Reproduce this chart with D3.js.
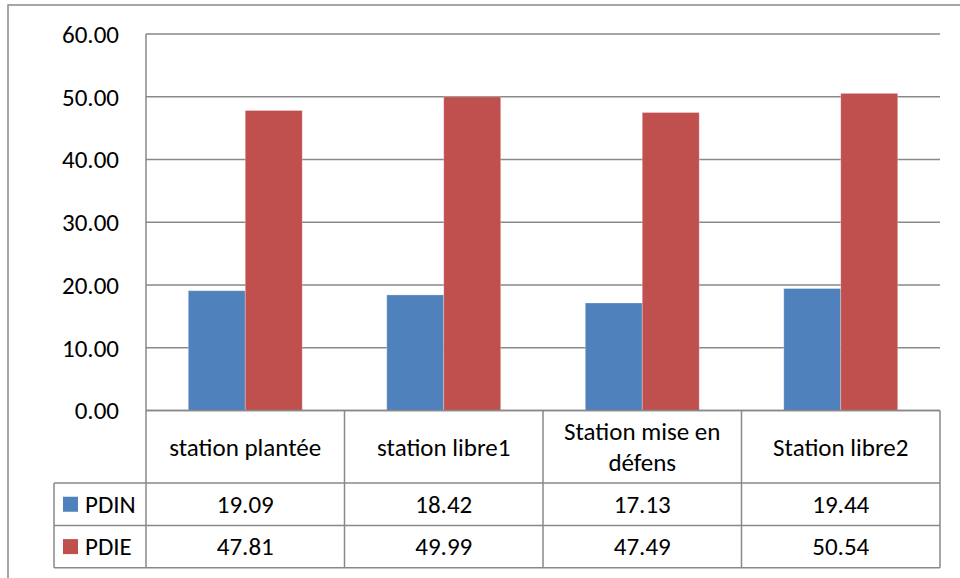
<!DOCTYPE html>
<html>
<head>
<meta charset="utf-8">
<script src="https://cdn.jsdelivr.net/npm/d3@7"></script>
<style>
  body { margin: 0; background: #fff; }
  text { font-family: Carlito, Calibri, Lato, sans-serif; fill: #000; }
</style>
</head>
<body>
<svg id="chart" width="960" height="578"></svg>
<script>
// data
const categories = ['station plantée', 'station libre1', 'Station mise en défens', 'Station libre2'];
const seriesNames = ['PDIN', 'PDIE'];
const pdin = [19.09, 18.42, 17.13, 19.44];
const pdie = [47.81, 49.99, 47.49, 50.54];
const yTicks = [0, 10, 20, 30, 40, 50, 60];
const colors = ['#4f81bd', '#c0504d'];

const svg = d3.select('#chart');
const gridColor = '#898989';
const fontSize = 25;

// layout
const plot = {left: 146, right: 940, top: 34, bottom: 410.5};
const legendLeft = 54;
const rowY = [410.5, 483, 525.5, 567.7];

// outer frame (runs off canvas at right and bottom)
svg.append('rect')
  .attr('x', 8).attr('y', 5)
  .attr('width', 1000).attr('height', 700)
  .attr('fill', 'none')
  .attr('stroke', gridColor)
  .attr('stroke-width', 1.5);

// scales
let x0 = d3.scaleBand()
  .domain(categories)
  .range([plot.left, plot.right])
  .paddingInner(0.426)
  .paddingOuter(0.213);
let x1 = d3.scaleBand()
  .domain(seriesNames)
  .range([0, x0.bandwidth()]);
let xCell = d3.scaleBand()
  .domain(categories)
  .range([plot.left, plot.right]);
let y = d3.scaleLinear().domain([0, 60]).range([plot.bottom, plot.top]);

// gridlines
svg.append('g')
  .selectAll('line')
  .data(yTicks)
  .enter()
  .append('line')
  .attr('x1', plot.left).attr('x2', plot.right)
  .attr('y1', d => y(d)).attr('y2', d => y(d))
  .attr('stroke', gridColor)
  .attr('stroke-width', 1.5);

// y tick labels
svg.append('g')
  .selectAll('text')
  .data(yTicks)
  .enter()
  .append('text')
  .attr('x', 119)
  .attr('y', d => y(d))
  .attr('dy', '0.35em')
  .attr('text-anchor', 'end')
  .style('font-size', fontSize + 'px')
  .text(d => d.toFixed(2));

// bars
const series = [pdin, pdie];
const groups = svg.append('g')
  .selectAll('g')
  .data(categories)
  .enter()
  .append('g')
  .attr('transform', d => `translate(${x0(d)},0)`);

groups.selectAll('rect')
  .data((d, i) => seriesNames.map((s, j) => ({s, v: series[j][i], c: colors[j]})))
  .enter()
  .append('rect')
  .attr('x', d => x1(d.s))
  .attr('width', x1.bandwidth())
  .attr('y', d => y(d.v))
  .attr('height', d => y(0) - y(d.v))
  .attr('fill', d => d.c)
  .attr('stroke', '#fff')
  .attr('stroke-opacity', 0.35)
  .attr('stroke-width', 0.8);

// data table lines
const table = svg.append('g')
  .attr('stroke', gridColor)
  .attr('stroke-width', 1.5);

// vertical axis line
table.append('line')
  .attr('x1', plot.left).attr('x2', plot.left)
  .attr('y1', plot.top).attr('y2', rowY[3]);

xCell.domain().forEach(c => {
  table.append('line')
    .attr('x1', xCell(c) + xCell.bandwidth()).attr('x2', xCell(c) + xCell.bandwidth())
    .attr('y1', rowY[0]).attr('y2', rowY[3]);
});
table.append('line')
  .attr('x1', legendLeft).attr('x2', legendLeft)
  .attr('y1', rowY[1]).attr('y2', rowY[3]);
rowY.forEach((ry, i) => {
  table.append('line')
    .attr('x1', i === 0 ? plot.left : legendLeft).attr('x2', plot.right)
    .attr('y1', ry).attr('y2', ry);
});

// category labels with wrapping
const labelG = svg.append('g');
categories.forEach(c => {
  const cx = xCell(c) + xCell.bandwidth() / 2;
  const maxW = xCell.bandwidth() - 24;
  const t = labelG.append('text')
    .attr('text-anchor', 'middle')
    .style('font-size', fontSize + 'px');
  // greedy word wrap
  let words = c.split(' ');
  let lines = [];
  let line = [];
  words.forEach(w => {
    line.push(w);
    t.text(line.join(' '));
    if (t.node().getComputedTextLength() > maxW && line.length > 1) {
      line.pop();
      lines.push(line.join(' '));
      line = [w];
    }
  });
  lines.push(line.join(' '));
  t.text(null);
  const lh = 31;
  const midY = (rowY[0] + rowY[1]) / 2;
  lines.forEach((l, k) => {
    t.append('tspan')
      .attr('x', cx)
      .attr('y', midY + (k - (lines.length - 1) / 2) * lh)
      .attr('dy', '0.35em')
      .text(l);
  });
});

// value rows
series.forEach((vals, j) => {
  const midY = (rowY[j + 1] + rowY[j + 2]) / 2;
  svg.append('rect')
    .attr('x', 63).attr('y', midY - 7.5)
    .attr('width', 15).attr('height', 15)
    .attr('fill', colors[j]);
  svg.append('text')
    .attr('x', 85).attr('y', midY)
    .attr('dy', '0.35em')
    .style('font-size', fontSize + 'px')
    .text(seriesNames[j]);
  svg.append('g')
    .selectAll('text')
    .data(vals)
    .enter()
    .append('text')
    .attr('x', (d, i) => xCell(categories[i]) + xCell.bandwidth() / 2)
    .attr('y', midY)
    .attr('dy', '0.35em')
    .attr('text-anchor', 'middle')
    .style('font-size', fontSize + 'px')
    .text(d => d.toFixed(2));
});
</script>
</body>
</html>
